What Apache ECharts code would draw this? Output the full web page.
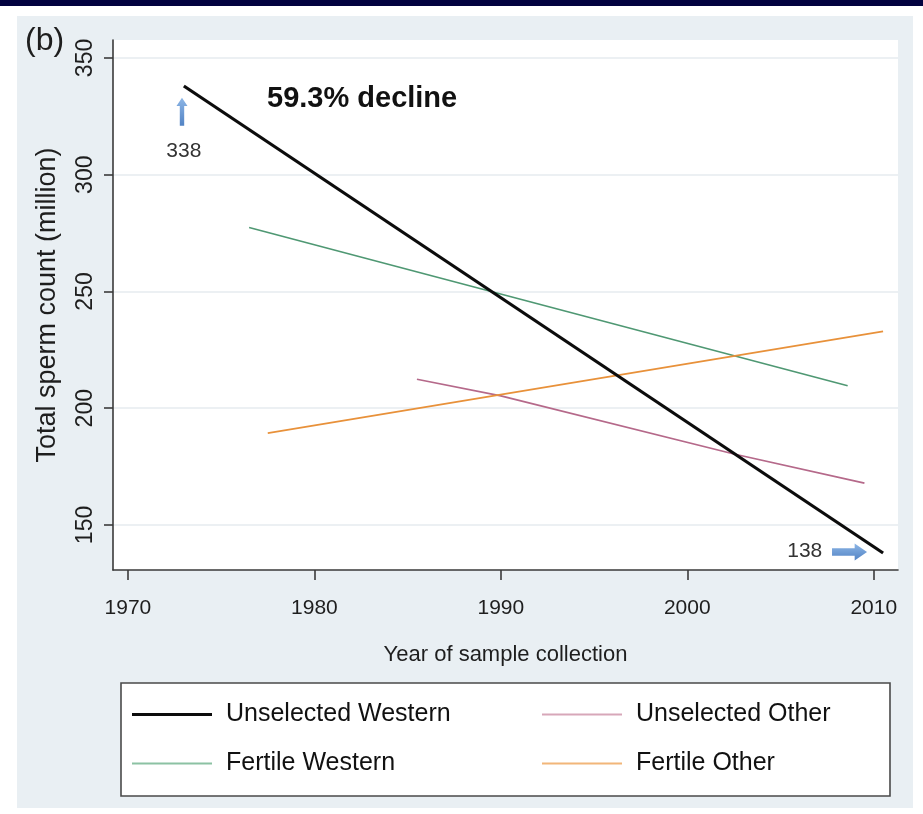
<!DOCTYPE html>
<html>
<head>
<meta charset="utf-8">
<script src="https://cdn.jsdelivr.net/npm/echarts@6/dist/echarts.min.js"></script>
<style>
  html, body { margin: 0; padding: 0; background: #ffffff; }
  #wrap { position: relative; width: 923px; height: 814px; overflow: hidden; }
  #bar { position: absolute; left: 0; top: 0; width: 923px; height: 6px; background: #02023f; }
  #panel { position: absolute; left: 17px; top: 16px; width: 896px; height: 792px; background: #e9eff3; }
  #chart { position: absolute; left: 0; top: 0; width: 923px; height: 814px; }
</style>
</head>
<body>
<div id="wrap">
  <div id="bar"></div>
  <div id="panel"></div>
  <div id="chart"></div>
</div>
<script>
// ---------------- data ----------------
const seriesNames = ['Unselected Western', 'Unselected Other', 'Fertile Western', 'Fertile Other'];
const xTicks = [1970, 1980, 1990, 2000, 2010];
const yTicks = [150, 200, 250, 300, 350];

const unselectedWesternYears = [1973.0, 2010.5];
const unselectedWesternValues = [338, 138];

const unselectedOtherYears = [1985.5, 1990.0, 2002.5, 2009.5];
const unselectedOtherValues = [212.4, 205.3, 180.4, 167.9];

const fertileWesternYears = [1976.5, 2008.6];
const fertileWesternValues = [277.4, 209.6];

const fertileOtherYears = [1977.5, 2010.5];
const fertileOtherValues = [189.3, 232.9];

const startLabel = { year: 1973.0, value: 338 };
const endLabel = { year: 2010.5, value: 138 };
const declineText = '59.3% decline';
const panelLetter = '(b)';
const xTitle = 'Year of sample collection';
const yTitle = 'Total sperm count (million)';

// ---------------- styling ----------------
const FONT = '"Liberation Sans", Arial, sans-serif';
const TXT = '#1e1e1e';
const colors = {
  [seriesNames[0]]: { line: '#0c0c0c', legend: '#0c0c0c', width: 3.2, legendH: 3 },
  [seriesNames[1]]: { line: '#b5698a', legend: '#d7a7b9', width: 1.7, legendH: 2 },
  [seriesNames[2]]: { line: '#4f9873', legend: '#8cc2a3', width: 1.7, legendH: 2 },
  [seriesNames[3]]: { line: '#e8913a', legend: '#f2b679', width: 1.7, legendH: 2 }
};

function pairs(xs, ys) { return xs.map((x, i) => [x, ys[i]]); }

const upArrow = 'path://M5,0 L10,9 L7,9 L7,30 L3,30 L3,9 L0,9 Z';
const rightArrow = 'path://M0,5 L22,5 L22,0 L34,9 L22,18 L22,13 L0,13 Z';
const arrowColor = {
  type: 'linear', x: 0, y: 0, x2: 0, y2: 1,
  colorStops: [{ offset: 0, color: '#8db6e6' }, { offset: 1, color: '#5283c4' }]
};

// legend slots: [name, left, top]
const legendSlots = [
  [seriesNames[0], 132, 702],
  [seriesNames[2], 132, 751],
  [seriesNames[1], 542, 702],
  [seriesNames[3], 542, 751]
];

const chart = echarts.init(document.getElementById('chart'), null, { renderer: 'canvas' });

const option = {
  backgroundColor: 'transparent',
  animation: false,
  grid: {
    left: 113, top: 40, right: 25, bottom: 244,
    show: true, backgroundColor: '#ffffff', borderWidth: 0
  },
  xAxis: {
    type: 'value',
    min: 1969.2, max: 2011.3,
    name: xTitle,
    nameLocation: 'middle',
    nameGap: 74,
    nameTextStyle: { fontFamily: FONT, fontSize: 22, color: TXT },
    axisLine: { show: true, onZero: false, lineStyle: { color: '#3a3a3a', width: 1.6 } },
    axisTick: { show: true, length: 10, customValues: xTicks, lineStyle: { color: '#3a3a3a', width: 1.6 } },
    axisLabel: { customValues: xTicks, margin: 28, fontFamily: FONT, fontSize: 21, color: TXT,
                 formatter: v => String(Math.round(v)) },
    splitLine: { show: false }
  },
  yAxis: {
    type: 'value',
    min: 130.7, max: 357.7,
    name: yTitle,
    nameLocation: 'middle',
    nameGap: 52,
    nameTextStyle: { fontFamily: FONT, fontSize: 27, color: TXT },
    axisLine: { show: true, onZero: false, lineStyle: { color: '#3a3a3a', width: 1.6 } },
    axisTick: { show: true, length: 9, customValues: yTicks, lineStyle: { color: '#3a3a3a', width: 1.6 } },
    axisLabel: { customValues: yTicks, rotate: 90, margin: 16, fontFamily: FONT, fontSize: 23, color: TXT,
                 formatter: v => String(Math.round(v)) },
    splitLine: { show: true, lineStyle: { color: '#e6ebef', width: 1.6 } }
  },
  legend: legendSlots.map(([name, left, top]) => ({
    orient: 'vertical', left: left, top: top, padding: 0,
    itemWidth: 80, itemHeight: colors[name].legendH,
    icon: 'rect',
    data: [{ name: name, itemStyle: { color: colors[name].legend } }],
    textStyle: { fontFamily: FONT, fontSize: 25, color: '#111', padding: [0, 0, 0, 9] }
  })),
  graphic: [
    {
      type: 'rect', z: 1,
      shape: { x: 121, y: 683, width: 769, height: 113 },
      style: { fill: '#ffffff', stroke: '#4a4a4a', lineWidth: 1.6 }
    },
    {
      type: 'text', left: 25, top: 25, z: 10,
      style: { text: panelLetter, fontFamily: FONT, fontSize: 32, fill: TXT }
    },
    {
      type: 'text', left: 267, top: 84, z: 10,
      style: { text: declineText, fontFamily: FONT, fontWeight: 'bold', fontSize: 29, fill: '#111' }
    }
  ],
  series: [
    {
      name: seriesNames[0], type: 'line', symbol: 'none', z: 5,
      data: pairs(unselectedWesternYears, unselectedWesternValues),
      lineStyle: { color: colors[seriesNames[0]].line, width: colors[seriesNames[0]].width },
      itemStyle: { color: colors[seriesNames[0]].line },
      markPoint: {
        silent: true,
        data: [
          { coord: [startLabel.year - 0.1, startLabel.value - 11], symbol: upArrow, symbolSize: [11, 28],
            itemStyle: { color: arrowColor }, label: { show: false } },
          { coord: [startLabel.year, startLabel.value - 28], value: startLabel.value, symbol: 'circle', symbolSize: 1,
            itemStyle: { color: 'rgba(0,0,0,0)' },
            label: { show: true, position: 'inside', formatter: '{c}', fontFamily: FONT, fontSize: 21, color: '#333' } },
          { coord: [endLabel.year - 1.8, endLabel.value + 0.4], symbol: rightArrow, symbolSize: [35, 17],
            itemStyle: { color: arrowColor }, label: { show: false } },
          { coord: [endLabel.year - 4.2, endLabel.value + 0.8], value: endLabel.value, symbol: 'circle', symbolSize: 1,
            itemStyle: { color: 'rgba(0,0,0,0)' },
            label: { show: true, position: 'inside', formatter: '{c}', fontFamily: FONT, fontSize: 21, color: '#333' } }
        ]
      }
    },
    {
      name: seriesNames[1], type: 'line', symbol: 'none', z: 3,
      data: pairs(unselectedOtherYears, unselectedOtherValues),
      lineStyle: { color: colors[seriesNames[1]].line, width: colors[seriesNames[1]].width },
      itemStyle: { color: colors[seriesNames[1]].legend }
    },
    {
      name: seriesNames[2], type: 'line', symbol: 'none', z: 3,
      data: pairs(fertileWesternYears, fertileWesternValues),
      lineStyle: { color: colors[seriesNames[2]].line, width: colors[seriesNames[2]].width },
      itemStyle: { color: colors[seriesNames[2]].legend }
    },
    {
      name: seriesNames[3], type: 'line', symbol: 'none', z: 3,
      data: pairs(fertileOtherYears, fertileOtherValues),
      lineStyle: { color: colors[seriesNames[3]].line, width: colors[seriesNames[3]].width },
      itemStyle: { color: colors[seriesNames[3]].legend }
    }
  ]
};

chart.setOption(option);
</script>
</body>
</html>
